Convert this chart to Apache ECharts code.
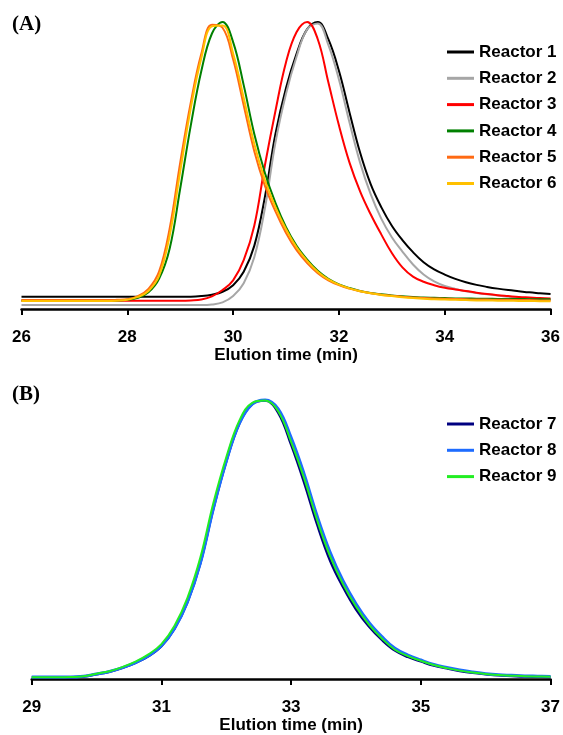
<!DOCTYPE html>
<html>
<head>
<meta charset="utf-8">
<script src="https://cdn.jsdelivr.net/npm/echarts@6/dist/echarts.min.js"></script>
<style>
  html, body { margin: 0; padding: 0; background: #fff; }
  #chart { width: 563px; height: 735px; }
</style>
</head>
<body>
<div id="chart"></div>
<script>
// ---------- Panel (A) ----------
const timeA = [26.0,26.2,26.4,26.6,26.8,27.0,27.2,27.4,27.6,27.8,
  28.0,28.2,28.4,28.6,28.8,29.0,29.2,29.4,29.6,29.8,
  30.0,30.2,30.4,30.6,30.8,31.0,31.2,31.4,31.6,31.8,
  32.0,32.2,32.4,32.6,32.8,33.0,33.2,33.4,33.6,33.8,
  34.0,34.2,34.4,34.6,34.8,35.0,35.2,35.4,35.6,35.8,36.0];
const namesA = ['Reactor 1','Reactor 2','Reactor 3','Reactor 4','Reactor 5','Reactor 6'];
const reactor1 = [4.3,4.3,4.3,4.3,4.3,4.3,4.3,4.3,4.3,4.3,
  4.3,4.3,4.3,4.3,4.3,4.3,4.3,4.5,5.0,6.0,
  8.3,13,22,39,61,77,89,97.5,100,94,
  83,68.5,54.5,43.5,35.5,29,24,19.8,16.3,13.8,
  12,10.5,9.3,8.4,7.7,7.1,6.6,6.2,5.8,5.5,5.2];
const reactor2 = [1.4,1.4,1.4,1.4,1.4,1.4,1.4,1.4,1.4,1.4,
  1.4,1.4,1.4,1.4,1.4,1.4,1.4,1.4,1.6,2.3,
  4.5,9,18,35,58,75,88,97.5,99.5,92,
  80,65,51,40,31.5,25,20,15.5,12,9.6,
  8,7,6.2,5.6,5.1,4.7,4.3,4.0,3.7,3.4,3.1];
const reactor3 = [2.9,2.9,2.9,2.9,2.9,2.9,2.9,2.9,2.9,2.9,
  2.9,2.9,2.9,2.9,2.9,2.9,3.0,3.3,4.4,6.6,
  10,17,29,50,69,86,96.5,100,94,79,
  64,51,41,33,26,19.5,14.5,11.3,9.5,8.3,
  7.4,6.8,6.3,5.7,5.2,4.8,4.5,4.2,4.0,3.8,3.7];
const reactor4 = [3.0,3.0,3.0,3.0,3.0,3.0,3.0,3.0,3.0,3.0,
  3.2,3.9,5.8,10.5,21,42,64,83,96,100,
  93,78,61,47.5,37,28.5,22,17.2,13.3,10.5,
  8.6,7.3,6.3,5.6,5.1,4.7,4.4,4.2,4.0,3.9,
  3.8,3.7,3.7,3.6,3.6,3.5,3.5,3.5,3.4,3.4,3.4];
const reactor5 = [3.1,3.1,3.1,3.1,3.1,3.1,3.1,3.1,3.1,3.2,
  3.4,4.5,7.0,13,28,51,72,89,99,98,
  87,71,55,43,34,26.5,20.5,16,12.5,10,
  8.3,7.1,6.2,5.5,5.0,4.6,4.3,4.0,3.8,3.7,
  3.6,3.5,3.4,3.3,3.3,3.2,3.2,3.1,3.1,3.0,3.0];
const reactor6 = [2.8,2.8,2.8,2.8,2.8,2.8,2.8,2.8,2.8,2.9,
  3.2,4.2,6.3,11.5,25.5,48,70,87.5,98.5,98.8,
  89,73.5,57.5,45,35.5,27.8,21.5,16.8,13.0,10.3,
  8.5,7.2,6.2,5.5,4.9,4.5,4.1,3.8,3.6,3.4,
  3.3,3.2,3.1,3.0,3.0,2.9,2.9,2.8,2.8,2.7,2.7];
const colorsA = ['#000000','#a6a6a6','#ff0000','#008000','#ff6a13','#ffc000'];
const seriesValuesA = [reactor1, reactor2, reactor3, reactor4, reactor5, reactor6];

// ---------- Panel (B) ----------
const timeB = [29.0,29.2,29.4,29.6,29.8,30.0,30.2,30.4,30.6,30.8,
  31.0,31.2,31.4,31.6,31.8,32.0,32.2,32.4,32.6,32.8,
  33.0,33.2,33.4,33.6,33.8,34.0,34.2,34.4,34.6,34.8,
  35.0,35.2,35.4,35.6,35.8,36.0,36.2,36.4,36.6,36.8,37.0];
const namesB = ['Reactor 7','Reactor 8','Reactor 9'];
const reactor7 = [0.5,0.5,0.5,0.6,0.9,1.7,2.6,4.0,5.8,8.2,
  11.8,18,27.5,41.5,61,78,91.5,98.5,99.8,95.5,
  84,70.5,55.5,42.5,33,25,18.8,14,10.2,7.9,
  6.3,4.8,3.8,2.9,2.2,1.7,1.3,1.1,0.9,0.8,0.7];
const reactor8 = [0.7,0.7,0.7,0.7,1.0,1.8,2.7,4.1,5.9,8.3,
  11.9,18,27.5,41.5,61,78,91.5,98.5,100,96.8,
  86.5,73.5,58.5,45.5,35.2,27,20.3,15.2,11,8.6,
  6.8,5.2,4.1,3.2,2.5,1.9,1.5,1.3,1.1,1.0,0.9];
const reactor9 = [0.6,0.6,0.6,0.7,1.0,1.9,2.8,4.3,6.2,8.8,
  12.5,19,29,43.5,63,79.5,92.5,99,99.8,96,
  85,72,57,44,34,26,19.5,14.5,10.5,8.2,
  6.5,5.0,3.9,3.0,2.3,1.8,1.4,1.2,1.0,0.9,0.8];
const colorsB = ['#000080','#1e6cff','#22ee22'];
const widthsB = [2.5, 3, 2];
const seriesValuesB = [reactor7, reactor8, reactor9];

const axisTitle = 'Elution time (min)';
const panelLabels = ['(A)', '(B)'];

const FONT = '"Liberation Sans", Arial, sans-serif';

function xAxisCfg(gridIndex, min, max) {
  return {
    type: 'value', gridIndex: gridIndex, min: min, max: max, interval: 2,
    name: axisTitle, nameLocation: 'middle', nameGap: 38,
    nameTextStyle: { fontFamily: FONT, fontWeight: 'bold', fontSize: 17, color: '#000' },
    axisLine: { show: true, onZero: false, lineStyle: { color: '#000', width: 2.5 } },
    axisTick: { show: true, length: 6, lineStyle: { color: '#000', width: 2 } },
    axisLabel: { fontFamily: FONT, fontWeight: 'bold', fontSize: 17, color: '#000', margin: 20,
      showMinLabel: true, showMaxLabel: true, hideOverlap: false },
    splitLine: { show: false }
  };
}
function yAxisCfg(gridIndex) {
  return { type: 'value', gridIndex: gridIndex, min: 0, max: 100, show: false, splitLine: { show: false } };
}

const series = [];
seriesValuesA.forEach((vals, i) => {
  series.push({
    name: namesA[i], type: 'line', xAxisIndex: 0, yAxisIndex: 0,
    data: timeA.map((t, k) => [t, vals[k]]),
    showSymbol: false, symbol: 'none', smooth: 0.4, clip: false,
    lineStyle: { color: colorsA[i], width: 2 }, itemStyle: { color: colorsA[i] },
    z: 2 + i
  });
});
seriesValuesB.forEach((vals, i) => {
  series.push({
    name: namesB[i], type: 'line', xAxisIndex: 1, yAxisIndex: 1,
    data: timeB.map((t, k) => [t, vals[k]]),
    showSymbol: false, symbol: 'none', smooth: 0.4, clip: false,
    lineStyle: { color: colorsB[i], width: widthsB[i] }, itemStyle: { color: colorsB[i] },
    z: 2 + i
  });
});

function legendCfg(names, top) {
  return {
    data: names, orient: 'vertical', left: 447, top: top, padding: 0,
    icon: 'rect', itemWidth: 27, itemHeight: 3, itemGap: 6.3,
    textStyle: { fontFamily: FONT, fontWeight: 'bold', fontSize: 17, color: '#000', lineHeight: 20, padding: [0, 0, 0, 0] },
    selectedMode: false
  };
}

const chart = echarts.init(document.getElementById('chart'), null, { renderer: 'canvas' });
chart.setOption({
  backgroundColor: '#ffffff',
  animation: false,
  title: [
    { text: panelLabels[0], left: 12, top: 14, padding: 0,
      textStyle: { fontFamily: '"Liberation Serif", "Times New Roman", serif', fontWeight: 'bold', fontSize: 21, color: '#000' } },
    { text: panelLabels[1], left: 12, top: 384, padding: 0,
      textStyle: { fontFamily: '"Liberation Serif", "Times New Roman", serif', fontWeight: 'bold', fontSize: 21, color: '#000' } }
  ],
  legend: [legendCfg(namesA, 42), legendCfg(namesB, 414)],
  grid: [
    { left: 21.5, width: 533.5, top: 22, height: 287 },
    { left: 31.7, width: 524, top: 400, height: 280 }
  ],
  xAxis: [xAxisCfg(0, 26, 36), xAxisCfg(1, 29, 37)],
  yAxis: [yAxisCfg(0), yAxisCfg(1)],
  series: series
});
</script>
</body>
</html>
